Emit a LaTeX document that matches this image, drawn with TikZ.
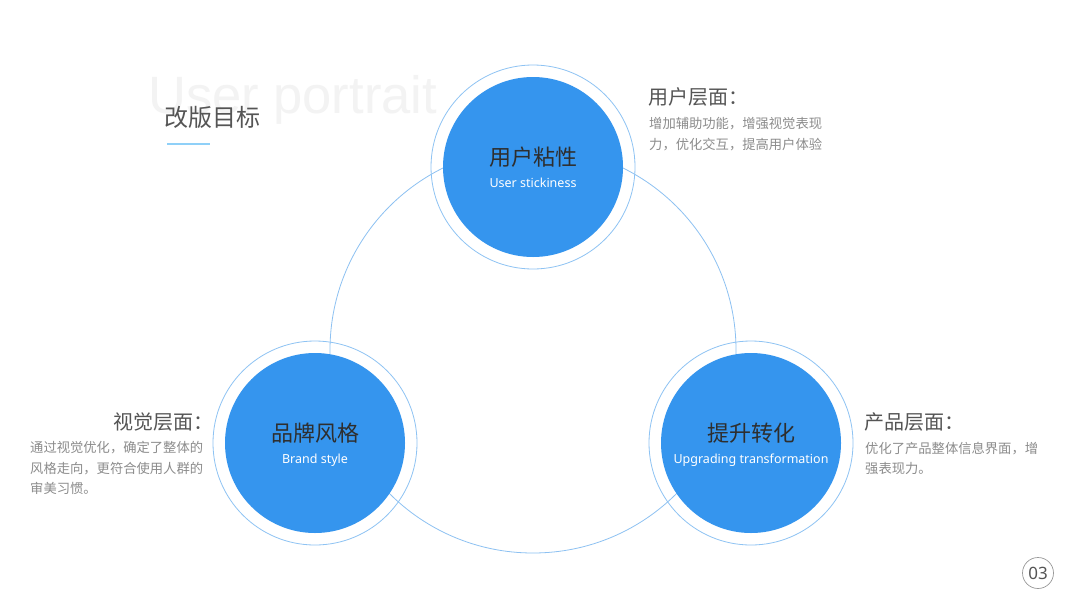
\documentclass[tikz,border=0pt]{standalone}
\usepackage{fontspec}
\setmainfont{Noto Sans CJK SC}
\newfontfamily\wmfont{Liberation Sans}
\newfontfamily\latfont{Noto Sans}
\definecolor{mainblue}{HTML}{3595EE}
\definecolor{ringblue}{HTML}{8EC3F3}
\definecolor{lineblue}{HTML}{8DC1F2}
\definecolor{titlegray}{HTML}{555555}
\definecolor{bodygray}{HTML}{8C8C8C}
\definecolor{wmgray}{HTML}{F3F3F3}
\definecolor{ulblue}{HTML}{8FD0F8}
\begin{document}
\begin{tikzpicture}[x=1pt,y=-1pt,
  ring/.style={draw=ringblue,line width=0.8pt},
  disc/.style={circle,fill=mainblue,minimum size=180pt,inner sep=0},
  cjktitle/.style={font=\fontsize{22}{24}\selectfont,text=black!82,inner sep=0},
  entitle/.style={font=\latfont\fontsize{12.5}{14}\selectfont,text=white,inner sep=0},
  headtxt/.style={font=\fontsize{20}{22}\selectfont,text=titlegray,inner sep=0},
  bodytxt/.style={font=\fontsize{13.3}{20.4}\selectfont,text=bodygray,inner sep=0,align=left}
]
\useasboundingbox (0,0) rectangle (1067,600);
\fill[white] (0,0) rectangle (1067,600);
% watermark and title
\node[anchor=base west,inner sep=0,font=\wmfont\fontsize{52.5}{52.5}\selectfont,text=wmgray] (wm) at (148,113) {User portrait};
\node[anchor=west,inner sep=0,font=\fontsize{24}{26}\selectfont,text=titlegray] (title) at (164,117) {改版目标};
\coordinate (ulA) at (167,144);
\coordinate (ulB) at (210,144);
\draw[ulblue,line width=1.5pt] (ulA) -- (ulB);
% big circle
\coordinate (bigc) at (533,350);
\draw[lineblue,line width=0.8pt] (bigc) circle[radius=203];
% three discs
\coordinate (ct) at (533,167);
\coordinate (cl) at (315,443);
\coordinate (cr) at (751,443);
\draw[ring] (ct) circle[radius=102];
\draw[ring] (cl) circle[radius=102];
\draw[ring] (cr) circle[radius=102];
\node[disc] (dt) at (ct) {};
\node[disc] (dl) at (cl) {};
\node[disc] (dr) at (cr) {};
\node[cjktitle] (tt) at (533,157) {用户粘性};
\node[entitle] (te) at (533,183) {User stickiness};
\node[cjktitle] (lt) at (315,433) {品牌风格};
\node[entitle] (le) at (315,460) {Brand style};
\node[cjktitle] (rt) at (751,433) {提升转化};
\node[entitle] (re) at (751,460) {Upgrading transformation};
% side texts
\node[headtxt,anchor=west] (h1) at (648,97) {用户层面：};
\node[bodytxt,anchor=north west] (b1) at (649,117.5) {增加辅助功能，增强视觉表现\\力，优化交互，提高用户体验};
\node[headtxt,anchor=east] (h2) at (214,422) {视觉层面：};
\node[bodytxt,anchor=north west] (b2) at (30,441.5) {通过视觉优化，确定了整体的\\风格走向，更符合使用人群的\\审美习惯。};
\node[headtxt,anchor=west] (h3) at (864,422) {产品层面：};
\node[bodytxt,anchor=north west] (b3) at (865,441.5) {优化了产品整体信息界面，增\\强表现力。};
% page number
\node[circle,draw=gray!80,line width=0.7pt,minimum size=31pt,inner sep=0,font=\latfont\fontsize{17}{18}\selectfont,text=titlegray] (pg) at (1038,573) {03};
\end{tikzpicture}
\end{document}
